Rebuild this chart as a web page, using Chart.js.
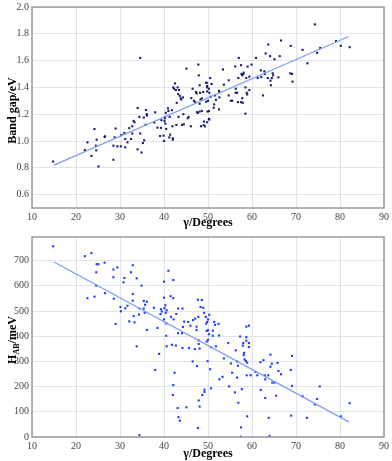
<!DOCTYPE html>
<html>
<head>
<meta charset="utf-8">
<script src="https://cdn.jsdelivr.net/npm/chart.js@4/dist/chart.umd.min.js"></script>
<style>
  body { margin: 0; background: #fff; }
  canvas { display: block; }
</style>
</head>
<body>
<canvas id="gap-chart" width="392" height="230"></canvas>
<canvas id="hab-chart" width="392" height="231"></canvas>
<script>
// band gap vs angle
const gapAngles = [14.8, 22.0, 22.6, 23.5, 24.2, 24.5, 24.6, 24.7, 25.1, 26.5, 26.6, 28.5, 28.5, 28.8, 29.0, 29.4, 30.2, 30.3, 31.0, 31.2, 31.2, 31.7, 32.1, 32.5, 32.8, 32.8, 33.1, 33.3,
    34.6, 34.0, 34.0, 34.9, 35.2, 35.5, 34.6, 34.4, 35.4, 35.9, 36.1, 36.1, 35.8, 38.0, 37.8, 38.5, 39.3, 39.1, 39.4, 39.9, 40.0, 40.2, 40.2, 40.1, 40.3, 40.5, 40.4, 40.9, 41.0, 41.3, 41.2, 41.4, 41.8, 41.9, 42.0, 42.0,
    42.1, 42.3, 42.5, 42.7, 43.1, 43.4, 43.2, 42.9, 43.3, 42.8, 43.6, 43.8, 43.9, 44.3, 44.4, 44.1, 44.5, 45.1, 45.4, 45.6, 46.1, 46.2, 46.5, 47.3, 47.4, 47.1, 46.8, 47.5, 47.7, 47.8, 47.9, 48.1, 48.2, 48.9, 48.6, 48.3, 48.1, 48.6, 48.1, 49.0, 49.1, 49.7, 49.8, 49.6, 49.9, 48.4,
    49.6, 49.8, 50.2, 50.5, 50.8, 50.3, 50.0, 49.8, 50.6, 50.2, 50.2, 50.3, 49.8, 49.3, 51.6, 51.8, 51.4, 51.3, 52.5, 52.6, 52.5, 52.6, 53.4, 53.6, 54.7, 54.7, 55.2, 55.5, 56.3, 56.3, 56.6, 56.2, 57.0, 57.5, 57.6, 57.8, 56.9, 58.1, 58.0, 58.5, 58.7, 59.0, 58.9, 58.8, 59.4, 59.4, 57.8, 57.9, 57.5, 56.8, 58.5,
    59.9, 60.9, 61.3, 62.0, 62.1, 62.5, 62.8, 62.9, 63.1, 63.7, 63.6, 64.2, 64.3, 64.1, 64.7, 64.8, 64.5, 65.1, 66.0, 66.3, 66.6,
    68.8, 68.7, 69.1, 69.2, 71.5, 72.6, 74.3, 74.8, 75.5, 79.1, 80.2, 82.2]
const gapValues = [0.847, 0.933, 0.99, 0.889, 1.089, 0.965, 0.93, 1.01, 0.81, 1.03, 1.035, 0.965, 0.86, 1.027, 1.093, 0.96, 0.96, 1.044, 1.06, 1.015, 0.953, 0.99, 1.096, 1.015, 1.11, 1.056, 1.15, 1.14,
    1.62, 1.246, 0.938, 0.914, 0.985, 1.005, 1.056, 1.18, 1.175, 1.231, 1.20, 1.19, 1.12, 1.214, 1.138, 1.10, 1.098, 1.037, 1.155, 1.04, 1.0, 1.18, 1.17, 1.15, 1.13, 1.09, 1.21, 1.244, 1.224, 1.18, 1.027, 1.047, 1.23, 1.11, 1.02, 1.01,
    1.40, 1.39, 1.43, 1.38, 1.40, 1.38, 1.35, 1.285, 1.18, 1.12, 1.337, 1.318, 1.31, 1.325, 1.20, 1.12, 1.125, 1.54, 1.17, 1.18, 1.11, 1.32, 1.39, 1.365, 1.355, 1.29, 1.30, 1.215, 1.21, 1.57, 1.49, 1.416, 1.36, 1.365, 1.318, 1.31, 1.278, 1.224, 1.22, 1.118, 1.145, 1.433, 1.40, 1.293, 1.22, 1.11,
    1.436, 1.41, 1.39, 1.47, 1.426, 1.36, 1.30, 1.37, 1.33, 1.224, 1.165, 1.16, 1.14, 1.11, 1.34, 1.307, 1.273, 1.248, 1.374, 1.365, 1.236, 1.325, 1.534, 1.42, 1.453, 1.34, 1.30, 1.30, 1.39, 1.36, 1.36, 1.556, 1.62, 1.566, 1.50, 1.49, 1.47, 1.51, 1.50, 1.40, 1.47, 1.555, 1.347, 1.36, 1.48, 1.38, 1.32, 1.285, 1.29, 1.29, 1.204,
    1.57, 1.62, 1.47, 1.527, 1.477, 1.34, 1.52, 1.50, 1.653, 1.72, 1.47, 1.45, 1.416, 1.633, 1.505, 1.49, 1.47, 1.61, 1.475, 1.633, 1.75,
    1.71, 1.505, 1.50, 1.443, 1.68, 1.58, 1.87, 1.658, 1.695, 1.746, 1.71, 1.70]
const gapFitX = [15, 82]
const gapFitY = [0.82, 1.78]
const gapTicks = [0.6, 0.8, 1.0, 1.2, 1.4, 1.6, 1.8, 2.0]

// H_AB vs angle
const habAngles = [14.8, 22.0, 23.5, 22.6, 24.2, 24.7, 25.1, 24.6, 24.6, 26.5, 26.6, 28.5, 28.5, 28.6, 29.0, 29.4, 30.1, 30.2, 30.8, 31.0, 31.2, 31.7, 32.1, 32.5, 32.9, 32.9, 32.9, 33.1, 33.3, 33.8, 33.8, 34.4, 34.9, 34.3, 34.4, 35.4, 35.4, 35.6, 35.7, 36.1, 36.1,
    37.7, 38.0, 38.5, 38.9, 39.2, 39.3, 39.5, 40.0, 40.0, 40.1, 40.3, 40.4, 40.6, 40.0, 40.5, 40.5, 40.6, 41.0, 41.5, 42.1, 42.1, 41.6, 42.2, 41.8, 42.4, 42.1, 42.0, 43.2, 42.8, 42.7, 43.1, 43.3, 43.6,
    44.2, 44.3, 44.1, 43.2, 44.2, 44.6, 45.1, 45.5, 46.0, 45.7, 46.5, 46.6, 47.1, 47.4, 47.4, 47.5, 47.0, 47.7, 47.8, 47.9, 47.9, 48.1, 48.6, 48.3, 48.9, 49.1, 49.5, 49.8, 49.7, 50.0, 49.9, 49.2, 48.7, 47.9, 48.1, 47.7,
    50.3, 50.0, 51.4, 51.6, 52.4, 49.6, 50.0, 51.1, 50.2, 52.5, 51.1, 49.7, 50.7, 51.8, 50.5, 50.7, 52.6, 53.3, 49.2, 54.6, 53.6, 55.2, 54.8, 55.5, 56.1, 56.3, 56.6, 56.6, 56.8, 56.9, 57.3, 57.5, 57.7,
    58.0, 57.9, 58.2, 58.1, 58.3, 58.7, 59.3, 58.7, 58.7, 59.3, 59.3, 58.6, 58.9, 58.8, 58.9, 57.5, 59.7, 60.8, 61.2, 62.0, 61.9, 62.6, 62.9, 63.0, 63.0, 63.7, 63.8, 64.0, 64.2, 64.2, 64.5, 64.6, 65.1, 65.5, 65.8, 66.0, 66.6,
    68.8, 69.1, 69.1, 68.9, 71.5, 72.5, 74.3, 74.8, 75.4, 80.2, 82.2]
const habValues = [757, 718, 730, 551, 557, 686, 686, 654, 601, 692, 571, 665, 634, 549, 449, 673, 516, 499, 614, 631, 511, 521, 459, 654, 682, 568, 541, 480, 455, 630, 360, 7, 601, 486, 510, 540, 510, 493, 525, 537, 425,
    513, 266, 433, 330, 488, 507, 498, 617, 553, 511, 523, 493, 503, 467, 451, 402, 360, 660, 559, 623, 551, 477, 467, 366, 255, 206, 167, 510, 488, 363, 115, 79, 65,
    510, 437, 412, 412, 353, 458, 118, 457, 442, 353, 300, 464, 470, 438, 425, 282, 349, 545, 477, 383, 369, 351, 544, 516, 513, 493, 477, 457, 421, 386, 301, 188, 167, 145, 121, 36,
    485, 467, 457, 445, 449, 450, 424, 422, 408, 403, 402, 379, 356, 360, 269, 193, 229, 239, 179, 373, 312, 292, 201, 255, 177, 344, 300, 236, 283, 136, 399, 38, 190,
    373, 363, 334, 325, 308, 438, 442, 396, 382, 373, 357, 302, 295, 245, 82, 1, 245, 258, 245, 187, 297, 305, 245, 229, 155, 245, 76, 4, 327, 279, 291, 216, 216, 164, 294, 262, 249,
    266, 322, 203, 85, 162, 76, 129, 151, 201, 82, 134]
const habFitX = [15, 82]
const habFitY = [695, 60]
const habTicks = [0, 100, 200, 300, 400, 500, 600, 700]

const angleTicks = [10, 20, 30, 40, 50, 60, 70, 80, 90]

const serif = "'Liberation Serif', 'DejaVu Serif', serif"
const gridColor = 'rgba(200, 208, 212, 0.55)'
const titleFont = 'bold 12px ' + serif
const subFont = 'bold 8px ' + serif

function points(xs, ys) {
    return xs.map((x, i) => ({ x: x, y: ys[i] }))
}

// frame round the plot plus axis titles drawn on the canvas
function framePlugin(yTitleParts) {
    return {
        id: 'frame',
        afterDraw(chart) {
            const ctx = chart.ctx
            const a = chart.chartArea
            ctx.save()
            ctx.strokeStyle = '#9a9a9a'
            ctx.lineWidth = 1.5
            ctx.strokeRect(a.left, a.top, a.right - a.left, a.bottom - a.top)

            ctx.fillStyle = '#000'
            ctx.textBaseline = 'alphabetic'
            ctx.font = titleFont
            ctx.textAlign = 'center'
            ctx.fillText('\u03b3/Degrees', (a.left + a.right) / 2, chart.height - 4)

            // rotated y title, parts may be subscript
            ctx.translate(16, (a.top + a.bottom) / 2 + 3)
            ctx.rotate(-Math.PI / 2)
            ctx.textAlign = 'left'
            let total = 0
            yTitleParts.forEach(p => {
                ctx.font = p.sub ? subFont : titleFont
                total += ctx.measureText(p.text).width
            })
            let x = -total / 2
            yTitleParts.forEach(p => {
                ctx.font = p.sub ? subFont : titleFont
                ctx.fillText(p.text, x, p.sub ? 3 : 0)
                x += ctx.measureText(p.text).width
            })
            ctx.restore()
        }
    }
}

function makeChart(canvas, opts) {
    return new Chart(canvas, {
        type: 'scatter',
        data: {
            datasets: [{
                type: 'line',
                data: points(opts.fitX, opts.fitY),
                borderColor: '#7f9bf7',
                borderWidth: 1.2,
                pointRadius: 0,
                fill: false,
                order: 0
            }, {
                data: points(opts.xs, opts.ys),
                pointStyle: 'rect',
                pointRadius: 1.5,
                backgroundColor: opts.dotColor,
                borderColor: opts.dotColor,
                borderWidth: 0,
                order: 1
            }]
        },
        options: {
            responsive: false,
            animation: false,
            devicePixelRatio: 1,
            layout: { padding: { left: 0, right: 6, top: opts.top, bottom: 0 } },
            plugins: { legend: { display: false }, tooltip: { enabled: false } },
            scales: {
                x: {
                    type: 'linear',
                    min: 10,
                    max: 90,
                    afterBuildTicks: s => { s.ticks = angleTicks.map(v => ({ value: v })) },
                    afterFit: s => { s.height = opts.xHeight },
                    grid: { color: gridColor, drawTicks: false },
                    border: { display: false },
                    ticks: { padding: 3, color: '#444', font: { family: serif, size: 10 } }
                },
                y: {
                    min: opts.yMin,
                    max: opts.yMax,
                    afterBuildTicks: s => { s.ticks = opts.yTicks.map(v => ({ value: v })) },
                    afterFit: s => { s.width = 32 },
                    grid: { color: gridColor, drawTicks: false },
                    border: { display: false },
                    ticks: {
                        padding: 3,
                        color: '#444',
                        font: { family: serif, size: 10, lineHeight: 0.8 },
                        callback: opts.fmt
                    }
                }
            }
        },
        plugins: [framePlugin(opts.yTitle)]
    })
}

makeChart(document.getElementById('gap-chart'), {
    xs: gapAngles, ys: gapValues, fitX: gapFitX, fitY: gapFitY,
    dotColor: '#1b1f6e', yMin: 0.5, yMax: 2.0, yTicks: gapTicks,
    fmt: v => v.toFixed(1), top: 5, xHeight: 22,
    yTitle: [{ text: 'Band gap/eV' }]
})

makeChart(document.getElementById('hab-chart'), {
    xs: habAngles, ys: habValues, fitX: habFitX, fitY: habFitY,
    dotColor: '#1f3dff', yMin: 0, yMax: 794, yTicks: habTicks,
    fmt: v => String(v), top: 4, xHeight: 24,
    yTitle: [{ text: 'H' }, { text: 'AB', sub: true }, { text: '/meV' }]
})
</script>
</body>
</html>
